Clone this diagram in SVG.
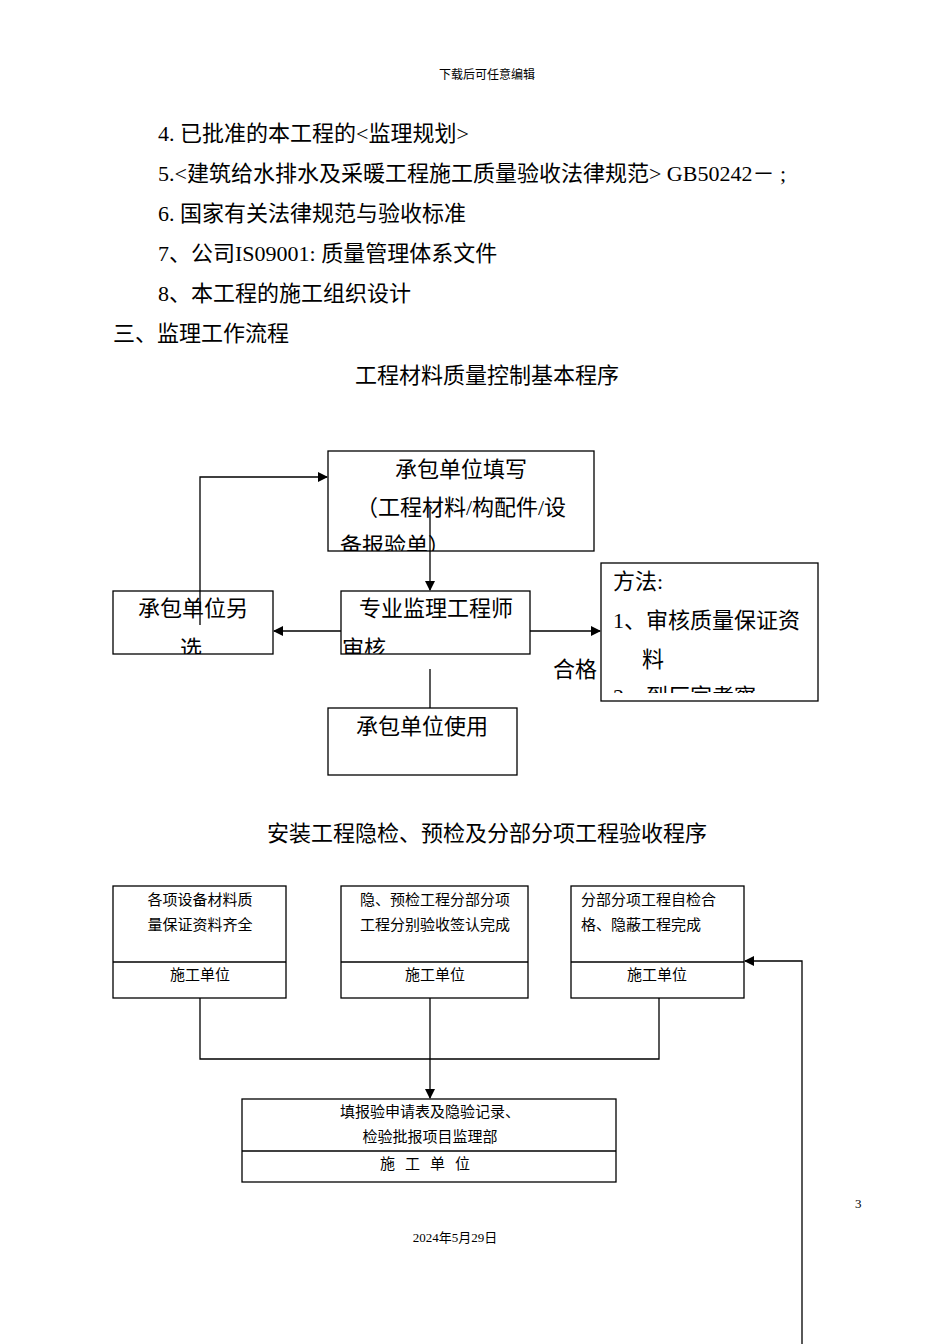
<svg xmlns="http://www.w3.org/2000/svg" width="950" height="1344" viewBox="0 0 950 1344">
<style>
text{font-family:"Liberation Serif","Noto Sans CJK SC",serif;fill:#000}
.b{fill:#fff;stroke:#000;stroke-width:1.3}
.l{stroke:#000;stroke-width:1.3;fill:none}
.h{font-size:22px}
.m{font-size:20px}
.s{font-size:15px}
</style>
<defs>
<marker id="a" markerWidth="10" markerHeight="10" refX="9" refY="5" orient="auto" markerUnits="userSpaceOnUse"><path d="M0,0L10,5L0,10z"/></marker>
<clipPath id="c1"><rect x="328" y="451" width="266" height="100"/></clipPath>
<clipPath id="c2"><rect x="113" y="591" width="160" height="63"/></clipPath>
<clipPath id="c3"><rect x="341" y="591" width="189" height="63"/></clipPath>
<clipPath id="c4"><rect x="601" y="563" width="217" height="130"/></clipPath>
</defs>
<rect width="950" height="1344" fill="#fff"/>
<text x="487" y="79" class="s" font-size="12" style="font-size:12px" text-anchor="middle">下载后可任意编辑</text>
<text x="158" y="141" class="h">4.  已批准的本工程的&lt;监理规划&gt;</text>
<text x="158" y="181" class="h">5.&lt;建筑给水排水及采暖工程施工质量验收法律规范&gt; GB50242－ ;</text>
<text x="158" y="221" class="h">6.  国家有关法律规范与验收标准</text>
<text x="158" y="261" class="h">7、公司IS09001: 质量管理体系文件</text>
<text x="158" y="301" class="h">8、本工程的施工组织设计</text>
<text x="113" y="341" class="h">三、监理工作流程</text>
<text x="487" y="383" class="h" text-anchor="middle">工程材料质量控制基本程序</text>

<g id="n1"><rect class="b" x="328" y="451" width="266" height="100"/>
<g clip-path="url(#c1)"><text class="h" x="461" y="477" text-anchor="middle">承包单位填写</text><text class="h" x="461" y="515" text-anchor="middle">（工程材料/构配件/设</text><text class="h" x="340" y="553">备报验单）</text></g></g>
<g id="n2"><rect class="b" x="113" y="591" width="160" height="63"/>
<g clip-path="url(#c2)"><text class="h" x="193" y="616" text-anchor="middle">承包单位另</text><text class="h" x="180" y="656">选</text></g></g>
<g id="n3"><rect class="b" x="341" y="591" width="189" height="63"/>
<g clip-path="url(#c3)"><text class="h" x="436" y="616" text-anchor="middle">专业监理工程师</text><text class="h" x="342" y="656">审核</text></g></g>
<g id="n4"><rect class="b" x="601" y="563" width="217" height="138"/>
<g clip-path="url(#c4)"><text class="h" x="613" y="589">方法:</text><text class="h" x="613" y="628">1、审核质量保证资</text><text class="h" x="642" y="667">料</text><text class="h" x="613" y="704">2、到厂家考察</text></g></g>
<g id="n5"><rect class="b" x="328" y="708" width="189" height="67"/><text class="h" x="422" y="734" text-anchor="middle">承包单位使用</text></g>
<text x="553" y="677" class="h">合格</text>

<text x="487" y="841" class="h" text-anchor="middle">安装工程隐检、预检及分部分项工程验收程序</text>
<g id="b1"><rect class="b" x="113" y="886" width="173" height="112"/><line class="l" x1="113" y1="962" x2="286" y2="962"/>
<text class="s" x="200" y="905" text-anchor="middle">各项设备材料质</text><text class="s" x="200" y="930" text-anchor="middle">量保证资料齐全</text><text class="s" x="200" y="980" text-anchor="middle">施工单位</text></g>
<g id="b2"><rect class="b" x="341" y="886" width="187" height="112"/><line class="l" x1="341" y1="962" x2="528" y2="962"/>
<text class="s" x="435" y="905" text-anchor="middle">隐、预检工程分部分项</text><text class="s" x="435" y="930" text-anchor="middle">工程分别验收签认完成</text><text class="s" x="435" y="980" text-anchor="middle">施工单位</text></g>
<g id="b3"><rect class="b" x="571" y="886" width="173" height="112"/><line class="l" x1="571" y1="962" x2="744" y2="962"/>
<text class="s" x="581" y="905">分部分项工程自检合</text><text class="s" x="581" y="930">格、隐蔽工程完成</text><text class="s" x="657" y="980" text-anchor="middle">施工单位</text></g>
<g id="b4"><rect class="b" x="242" y="1099" width="374" height="83"/><line class="l" x1="242" y1="1151" x2="616" y2="1151"/>
<text class="s" x="430" y="1117" text-anchor="middle">填报验申请表及隐验记录、</text><text class="s" x="430" y="1142" text-anchor="middle">检验批报项目监理部</text><text class="s" x="430" y="1169" text-anchor="middle" style="letter-spacing:10px">施工单位</text></g>
<text x="855" y="1208" style="font-size:13px">3</text>
<text x="455" y="1242" style="font-size:13px" text-anchor="middle">2024年5月29日</text>

<g id="connectors">
<line class="l" x1="430" y1="508" x2="430" y2="590" marker-end="url(#a)"/>
<polyline class="l" points="200,625 200,477 327,477" marker-end="url(#a)"/>
<line class="l" x1="341" y1="631" x2="274" y2="631" marker-end="url(#a)"/>
<line class="l" x1="530" y1="631" x2="600" y2="631" marker-end="url(#a)"/>
<line class="l" x1="430" y1="669" x2="430" y2="708"/>
<polyline class="l" points="200,998 200,1059 659,1059 659,998"/>
<line class="l" x1="430" y1="998" x2="430" y2="1098" marker-end="url(#a)"/>
<polyline class="l" points="802,1344 802,961 745,961" marker-end="url(#a)"/>
</g>
</svg>
